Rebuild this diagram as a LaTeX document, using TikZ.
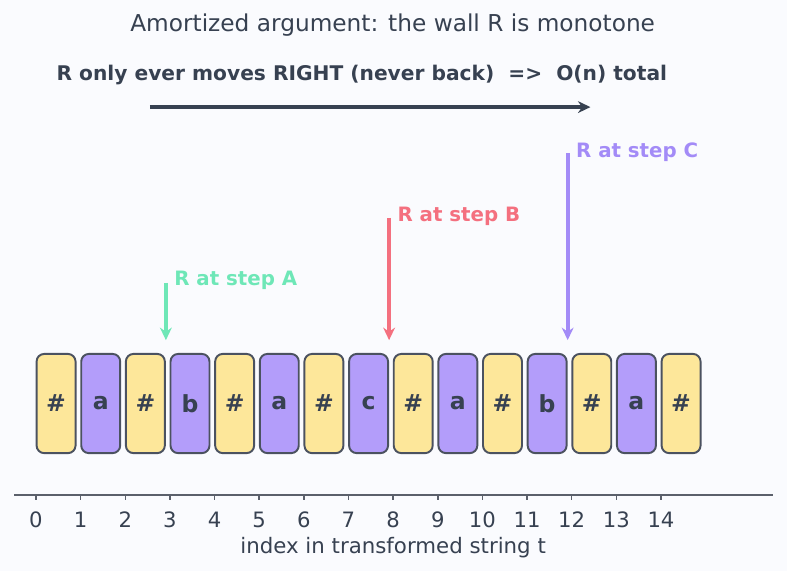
\documentclass[tikz,border=0pt]{standalone}
\usepackage{fontspec}
\setmainfont{DejaVu Sans}
\usetikzlibrary{arrows.meta}
\definecolor{bgPaper}{HTML}{FAFBFE}
\definecolor{ink}{HTML}{374151}
\definecolor{axisGray}{HTML}{5B606B}
\definecolor{cellEdge}{HTML}{4B5260}
\definecolor{hashYellow}{HTML}{FDE79A}
\definecolor{charViolet}{HTML}{B39DFA}
\definecolor{stepAcol}{HTML}{6EE7B7}
\definecolor{stepBcol}{HTML}{F4707F}
\definecolor{stepCcol}{HTML}{A38BF7}
\tikzset{
  cellbox/.style={draw=cellEdge,line width=1.4pt,rounded corners=5.5pt,minimum width=0.99cm,minimum height=2.52cm,
    inner sep=0pt,text=ink,font=\fontsize{17}{20}\bfseries\selectfont},
  hashcell/.style={cellbox,fill=hashYellow},
  charcell/.style={cellbox,fill=charViolet},
  steplabel/.style={anchor=west,font=\fontsize{14.3}{17}\bfseries\selectfont},
}

\begin{document}
\begin{tikzpicture}[x=1.134cm,y=1.134cm,>={Stealth[length=9pt,width=8.5pt]}]
  \fill[bgPaper] (-0.806,-1.702) rectangle (16.823,11.089);
  \useasboundingbox (-0.806,-1.702) rectangle (16.823,11.089);
  % headings
  \node[text=ink,font=\fontsize{16.8}{20}\selectfont] (title) at (7.99,10.52) {Amortized argument: the wall R is monotone};
  \node[text=ink,font=\fontsize{14.6}{17}\bfseries\selectfont] (claim) at (7.30,9.40)
    {R only ever moves RIGHT (never back)\ \ =>\ \ O(n) total};
  \coordinate (wallFrom) at (2.55,8.69);
  \coordinate (wallTo) at (12.42,8.69);
  \draw[->,ink,line width=3pt] (wallFrom) -- (wallTo);
  % transformed string
  \foreach \i/\ch/\kind in {0/\#/hashcell,1/a/charcell,2/\#/hashcell,3/b/charcell,4/\#/hashcell,5/a/charcell,
      6/\#/hashcell,7/c/charcell,8/\#/hashcell,9/a/charcell,10/\#/hashcell,11/b/charcell,12/\#/hashcell,
      13/a/charcell,14/\#/hashcell}
    \node[\kind] (cell\i) at (\i+0.45,2.05) {\ch};
  % positions of R
  \coordinate (topA) at (2.91,4.75);
  \coordinate (tipA) at (2.91,3.47);
  \coordinate (topB) at (7.91,6.21);
  \coordinate (tipB) at (7.91,3.47);
  \coordinate (topC) at (11.91,7.66);
  \coordinate (tipC) at (11.91,3.47);
  \draw[->,stepAcol,line width=3pt] (topA) -- (tipA);
  \draw[->,stepBcol,line width=3pt] (topB) -- (tipB);
  \draw[->,stepCcol,line width=3pt] (topC) -- (tipC);
  \node[steplabel,text=stepAcol] (labA) at (2.99,4.80) {R at step A};
  \node[steplabel,text=stepBcol] (labB) at (7.99,6.25) {R at step B};
  \node[steplabel,text=stepCcol] (labC) at (11.99,7.69) {R at step C};
  % index axis
  \draw[axisGray,line width=1.3pt] (-0.49,0) -- (16.51,0);
  \foreach \i in {0,...,14} {
    \draw[axisGray,line width=1.1pt] (\i,0) -- (\i,-0.12);
    \node[text=ink,font=\fontsize{15.3}{18}\selectfont] (tick\i) at (\i,-0.55) {\i};
  }
  \node[text=ink,font=\fontsize{15.4}{18}\selectfont] (xlab) at (8.0,-1.17) {index in transformed string t};
\end{tikzpicture}
\end{document}
